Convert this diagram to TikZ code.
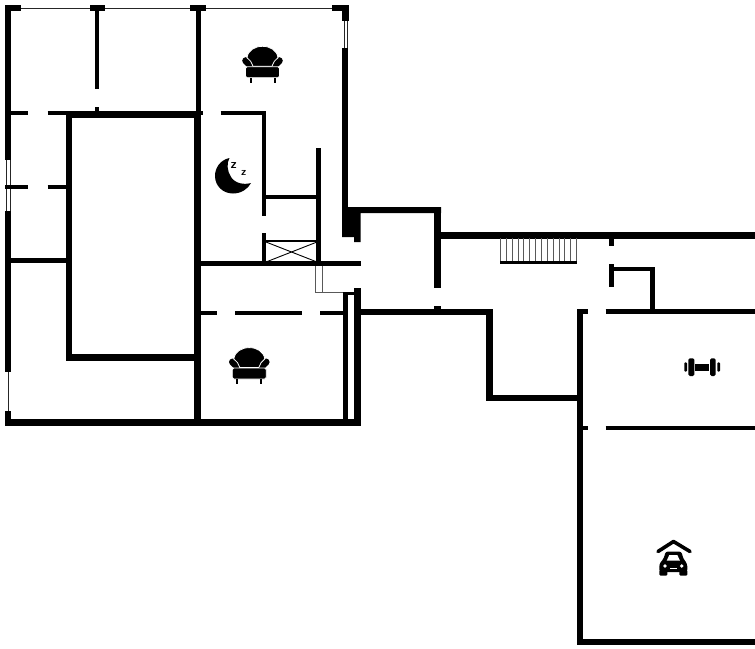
\documentclass[tikz,border=0pt]{standalone}
\usepackage{xcolor}
\usepackage{tikz}

\tikzset{
    wall/.style={line width=6.8pt},
    inwall/.style={line width=4.6pt},
    pane/.style={line width=1pt, black!85},
    stairline/.style={line width=1pt, black!65},
    pics/sofa/.style={code={
        \draw[line width=7pt, line cap=round] (-16.8,-4) -- (-12.5,0);
        \draw[line width=7pt, line cap=round] (16.8,-4) -- (12.5,0);
        \fill[draw=white, line width=0.8pt] (-15.5,-7) .. controls (-14.5,-14.5) and (-7.5,-18.4) .. (0,-18.4) .. controls (7.5,-18.4) and (14.5,-14.5) .. (15.5,-7)
            .. controls (12.5,-5) and (10.5,-2) .. (9.5,1.5) -- (-9.5,1.5) .. controls (-10.5,-2) and (-12.5,-5) .. (-15.5,-7) -- cycle;
        \fill[draw=white, line width=0.8pt, rounded corners=1.5pt] (-17,2) rectangle (17,13);
        \fill (-13,13) rectangle (-11,18);
        \fill (11,13) rectangle (13,18);
    }}
}

\begin{document}
\begin{tikzpicture}[x=1pt, y=-1pt]
    \useasboundingbox (0,0) rectangle (755,648);

    % outer windows
    \draw[pane] (21,8) -- (90,8);
    \draw[pane] (105,8) -- (190,8);
    \draw[pane] (205,8) -- (332,8);
    \draw[pane] (344,21) -- (344,48);
    \draw[pane] (347.5,21) -- (347.5,48);
    \draw[pane] (6.5,160) -- (6.5,211);
    \draw[pane] (10,160) -- (10,211);
    \draw[pane] (8,372) -- (8,411);

    % upper block, outer walls
    \draw[wall] (8,5) -- (8,160);
    \draw[wall] (8,211) -- (8,372);
    \draw[wall] (8,411) -- (8,422.5);
    \draw[wall] (5,422.5) -- (360.7,422.5);
    \draw[wall] (5,8) -- (21,8);
    \draw[wall] (90,8) -- (105,8);
    \draw[wall] (190,8) -- (205.5,8);
    \draw[wall] (332,8) -- (348.3,8);
    \draw[wall] (345.3,5) -- (345.3,21);
    \draw[wall] (345,48) -- (345,207);

    % upper block, inner walls
    \draw[inwall] (97,8) -- (97,89);
    \draw[inwall] (97,107) -- (97,114);
    \draw[inwall] (198.4,8) -- (198.4,114);
    \draw[inwall] (11,113) -- (28,113);
    \draw[inwall] (47.7,113) -- (66,113);
    \draw[inwall] (190,113) -- (203,113);
    \draw[inwall] (220.7,113) -- (266,113);
    \draw[inwall] (5,187) -- (28,187);
    \draw[inwall] (47.7,187) -- (66,187);
    \draw[inwall] (11,260.5) -- (66,260.5);
    \draw[wall] (66,114.2) -- (197,114.2);
    \draw[wall] (69,111) -- (69,360.7);
    \draw[wall] (66,357.5) -- (197,357.5);
    \draw[wall] (197.2,111) -- (197.2,419);
    \draw[inwall] (264,111) -- (264,216);
    \draw[inwall] (264,233) -- (264,265.7);
    \draw[inwall] (318.7,148) -- (318.7,265.7);
    \draw[inwall] (264,197) -- (318.7,197);
    \draw[inwall] (198,263.7) -- (360.7,263.7);

    % lift shaft
    \draw[line width=2pt] (266,241) -- (317,241);
    \draw[line width=0.9pt] (266,242) -- (317,262);
    \draw[line width=0.9pt] (266,262) -- (317,242);

    % duct
    \draw[line width=1pt, black!65] (315,266) -- (315,292) -- (345,292);
    \draw[line width=1pt, black!65] (322,266) -- (322,292);

    % lower room
    \draw[inwall] (198,312.8) -- (217.3,312.8);
    \draw[inwall] (235,312.8) -- (301.7,312.8);
    \draw[inwall] (320,312.8) -- (344,312.8);
    \draw[inwall] (345.3,292) -- (345.3,420);
    \draw[line width=3.4pt] (343.3,293.5) -- (355,293.5);
    \draw[wall] (357.5,288) -- (357.5,420);

    % central hall
    \fill (342,207) -- (441,207) -- (441,213.2) -- (360.7,213.2) -- (360.7,242) -- (354,242) -- (354,237) -- (342,237) -- cycle;
    \draw[wall] (437.5,207) -- (437.5,288);
    \draw[wall] (437.5,306) -- (437.5,312);
    \draw[wall] (360.7,312) -- (492.7,312);
    \draw[wall] (489.7,309) -- (489.7,401);
    \draw[wall] (486.7,398) -- (580,398);

    % east wing
    \draw[wall] (437,235.3) -- (755,235.3);
    \draw[wall] (580,309) -- (580,645);
    \draw[wall] (577,642) -- (755,642);
    \draw[inwall] (583,311.3) -- (588,311.3);
    \draw[inwall] (605.7,311.3) -- (755,311.3);
    \draw[inwall] (583,428) -- (588,428);
    \draw[inwall] (605.7,428) -- (755,428);
    \draw[inwall] (611.2,238) -- (611.2,246);
    \draw[inwall] (611.2,264) -- (611.2,286.7);
    \draw[inwall] (611.2,269) -- (654.3,269);
    \draw[inwall] (652.2,267) -- (652.2,311);

    % stairs
    \foreach \n in {0,...,13}
        \draw[stairline] (500.5+\n*5.85,238) -- (500.5+\n*5.85,261);
    \draw[line width=3pt] (500,262) -- (577,262);

    % icons
    \pic at (262.5,64.7) {sofa};
    \pic at (249.3,366) {sofa};

    \fill (229.5,158) .. controls (220,160) and (215,168) .. (215,176)
        .. controls (215,186) and (223,193.5) .. (233,193.5)
        .. controls (241,193.5) and (248,189) .. (251,183)
        .. controls (244,185) and (235,183.5) .. (231,177)
        .. controls (227,171) and (226.5,163) .. (229.5,158) -- cycle;
    \node[inner sep=0pt, font=\sffamily\bfseries\fontsize{13}{13}\selectfont] (zbig) at (233.8,165.5) {z};
    \node[inner sep=0pt, font=\sffamily\bfseries\fontsize{11}{11}\selectfont] (zsmall) at (243.7,172.5) {z};

    \fill (695,364) rectangle (709.3,370.7);
    \fill[rounded corners=1.5pt] (688.3,358.3) rectangle (694.3,376);
    \fill[rounded corners=1.5pt] (710,358.3) rectangle (715.7,376);
    \fill[rounded corners=1pt] (684.3,362.3) rectangle (687,371.7);
    \fill[rounded corners=1pt] (717.3,362.3) rectangle (720,371.7);

    \draw[line width=3.6pt, line join=round, line cap=round] (658,551.5) -- (673.5,541.5) -- (690,551.5);
    \fill[rounded corners=2.5pt] (659.3,572) -- (659.3,564) -- (664,558) -- (665.5,551.5) -- (681.5,551.5) -- (683,558) -- (687.3,564) -- (687.3,572) -- cycle;
    \fill[white] (669.3,555) -- (677.3,555) -- (680,560.7) -- (666.7,560.7) -- cycle;
    \fill[rounded corners=1pt] (659.3,570) rectangle (667.3,575.5);
    \fill[rounded corners=1pt] (679.3,570) rectangle (687.3,575.5);
    \fill[white] (665,566) circle (1.8);
    \fill[white] (681.7,566) circle (1.8);
    \fill[white] (670,567.5) rectangle (677,569);
\end{tikzpicture}
\end{document}
